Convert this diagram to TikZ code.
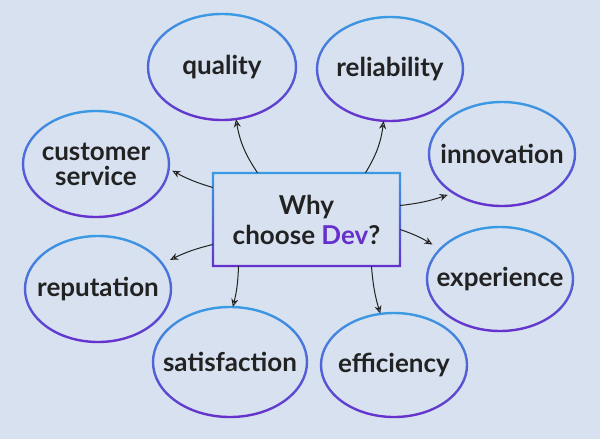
\documentclass[tikz,border=0pt]{standalone}
\usepackage{fontspec}
\setmainfont{Lato}
\usetikzlibrary{arrows.meta,shapes.geometric}
\definecolor{bg}{HTML}{D7E1F0}
\definecolor{cblue}{HTML}{3A9BE3}
\definecolor{cpurple}{HTML}{6630CC}
\definecolor{ink}{HTML}{222222}
\newcommand\bub[6]{%
  \node[bubble, minimum width={2*#4pt}, minimum height={2*#5pt}] (#1) at (#2,#3) {#6};
  \shade[ringshade] (#2,#3) ellipse [x radius=#4+1.2, y radius=#5+1.2]
                    (#2,#3) ellipse [x radius=#4-1.2, y radius=#5-1.2];}
\begin{document}
\begin{tikzpicture}[x=1pt,y=-1pt,
  bubble/.style={ellipse, inner sep=0pt, font=\fontsize{26}{25}\selectfont\bfseries, text=ink, align=center},
  ringshade/.style={top color=cblue, bottom color=cpurple, even odd rule},
  arr/.style={-{Stealth[open,length=8pt,width=7pt]}, line width=1pt, draw=ink},
  centerbox/.style={rectangle, minimum width=187pt, minimum height=93pt, inner sep=0pt, font=\fontsize{26}{30}\selectfont\bfseries, text=ink, align=center}
]
\fill[bg] (0,0) rectangle (600,439);
\useasboundingbox (0,0) rectangle (600,439);

\bub{q}{222}{67}{74}{53}{quality}
\bub{r}{390}{69}{73}{52}{reliability}
\bub{cs}{96}{164}{73}{53}{customer\\service}
\bub{i}{502}{154}{73}{52}{innovation}
\bub{e}{500}{279}{73}{52}{experience}
\bub{rp}{98}{289}{73}{53}{reputation}
\bub{s}{230}{362}{77}{55}{satisfaction}
\bub{ef}{394}{365}{73}{52}{efficiency}

\node[centerbox] (c) at (306.5,219.5) {Why\\choose \textcolor{cpurple}{Dev}?};
\shade[ringshade] (211.8,171.8) rectangle (401.2,267.2) (214.2,174.2) rectangle (398.8,264.8);

\draw[arr] ([xshift=-49pt]c.north) to[bend left=12] (q.-75);
\draw[arr] ([xshift=59pt]c.north) to[bend right=12] (r.-97);
\draw[arr] ([yshift=32pt]c.west) to[bend left=6] (cs.-5);
\draw[arr] ([yshift=14pt]c.east) to[bend right=6] (i.-143);
\draw[arr] ([yshift=-10pt]c.east) to[bend left=6] (e.153);
\draw[arr] ([yshift=-25pt]c.west) to[bend right=6] (rp.22);
\draw[arr] ([xshift=-68pt]c.south) to[bend left=6] (s.87);
\draw[arr] ([xshift=65pt]c.south) to[bend right=6] (ef.105);
\end{tikzpicture}
\end{document}
